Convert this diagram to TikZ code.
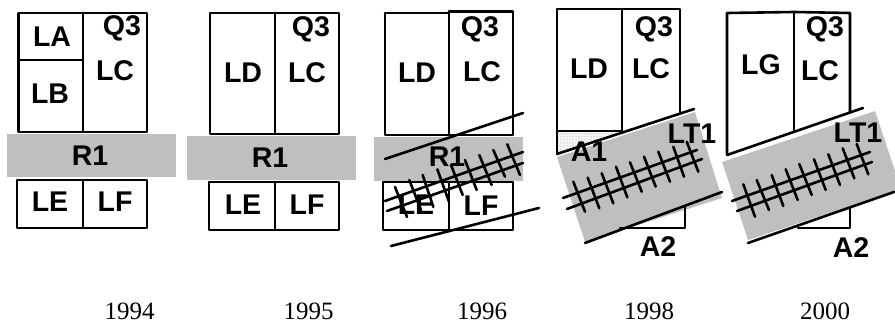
\documentclass[tikz,border=0pt]{standalone}
\usepackage{fontspec}
\usetikzlibrary{patterns}
\setmainfont{Liberation Sans}
\newfontfamily\yearfont{Liberation Serif}
\tikzset{
  box/.style={draw=black,line width=2.6pt,line cap=round,line join=round},
  band/.style={fill=black!25,draw=none},
  bar/.style={draw=black,line width=2.6pt,line cap=round},
  lab/.style={font=\fontsize{28.5}{28.5}\selectfont\bfseries,inner sep=0pt,text=black},
  yr/.style={font=\fontsize{25}{25}\selectfont\yearfont,inner sep=0pt,text=black}
}
\newcommand{\ties}[1]{\foreach \a/\b/\c/\d in {#1}{\draw[bar] (\a,\b) -- (\c,\d);}}
\begin{document}
\begin{tikzpicture}[x=1pt,y=-1pt]
\useasboundingbox (0,0) rectangle (895,323);
% 1994
\fill[band] (7,134) rectangle (176,177.5);
\draw[box] (18.5,13) rectangle (147,132);
\draw[box] (83,13) -- (83,132) (18.5,60) -- (83,60);
\draw[box] (17,180) rectangle (147,228);
\draw[box] (83,180) -- (83,228);
\node[lab] (a1) at (52,37) {LA};
\node[lab] (a2) at (122,28) {Q3};
\node[lab] (a3) at (115,71) {LC};
\node[lab] (a4) at (50,94) {LB};
\node[lab] (a5) at (90,156) {R1};
\node[lab] (a6) at (50,202) {LE};
\node[lab] (a7) at (115,202) {LF};
\node[yr] (y1) at (129.5,311) {1994};
% 1995
\fill[band] (187,136) rectangle (356,180);
\draw[box] (210,13) rectangle (339,134);
\draw[box] (275,13) -- (275,134);
\draw[box] (209,182) rectangle (339,230);
\draw[box] (275,182) -- (275,230);
\node[lab] (b1) at (243,73) {LD};
\node[lab] (b2) at (311,29) {Q3};
\node[lab] (b3) at (307,73) {LC};
\node[lab] (b4) at (270,158) {R1};
\node[lab] (b5) at (243,205) {LE};
\node[lab] (b6) at (307,205) {LF};
\node[yr] (y2) at (308.5,311) {1995};
% 1996
\fill[band] (374,137) rectangle (523,181);
\draw[box] (385,13) -- (449,13) (449,11.5) -- (513,11.5) -- (513,135) -- (385,135) -- (385,13);
\draw[box] (449,11.5) -- (449,135);
\draw[box] (383,182) rectangle (513,230);
\draw[box] (449,182) -- (449,230);
\node[lab] (c1) at (417,73) {LD};
\node[lab] (c2) at (480,29) {Q3};
\node[lab] (c3) at (482,72) {LC};
\node[lab] (c4) at (447,157) {R1};
\node[lab] (c5) at (416,205) {LE};
\node[lab] (c6) at (481,206) {LF};
\draw[bar] (385,159) -- (523,113);
\draw[bar] (391,246) -- (539,208);
\draw[bar] (385,201) -- (523,152);
\draw[bar] (387,211) -- (523,163);
\ties{395/187/407/217,409.3/180/421/210,422.7/175/433.3/207,437.3/169.3/449/201.7,451/165/462.7/195,465/160/476.7/190,479.3/155/491.7/185,493.3/150/505/176.7,507.3/144.3/520/175}
\node[yr] (y3) at (482,311) {1996};
% 1998
\fill[black!4] (557,131) -- (622,131) -- (557,153) -- cycle;
\fill[pattern=dots,pattern color=black!45] (557,131) -- (622,131) -- (557,153) -- cycle;
\fill[band] (557,157) -- (695,112) -- (722,198) -- (585,242) -- cycle;
\draw[box] (557,153) -- (557,9) -- (680,9) -- (680,112);
\draw[box] (622,9) -- (622,131);
\draw[box] (557,131) -- (622,131);
\draw[box] (620,228) -- (685,228) -- (685,207);
\draw[bar] (557,154) -- (694,109);
\draw[bar] (585,243) -- (722,192);
\draw[bar] (563,198) -- (697,150);
\draw[bar] (567,209) -- (702,159);
\ties{573.3/181.7/585/211.7,587.7/177.7/599.3/208.3,601.7/173.3/613.3/203.3,616/166.7/627.3/197.3,630/162.3/641.7/191.7,644/156.7/655.7/186.7,658.3/151.7/670/181.7,673.3/146.7/684/176.7,686.7/141.7/698.3/171.7}
\node[lab] (d1) at (589,69) {LD};
\node[lab] (d2) at (654,29) {Q3};
\node[lab] (d3) at (651,69) {LC};
\node[lab] (d4) at (692,134) {LT1};
\node[lab] (d5) at (589,152) {A1};
\node[lab] (d6) at (658,247) {A2};
\node[yr] (y4) at (649,311) {1998};
% 2000
\begin{scope}
\clip (0,0) rectangle (895,323);
\fill[band] (722,162) -- (875,111) -- (901,189) -- (748,240) -- cycle;
\end{scope}
\draw[box] (727,154) -- (727,13) -- (794,12) -- (850,13) -- (850,112);
\draw[box] (794,12) -- (794,132);
\draw[box] (798,228) -- (850,228) -- (850,207);
\draw[bar] (727,155) -- (863,108);
\draw[bar] (748,243) -- (894,192);
\draw[bar] (732,201) -- (870,152);
\draw[bar] (737,211) -- (872,162);
\ties{743.3/184.3/755/216.7,756.7/180/769/210,771.7/175/783.3/206,785.7/169.3/797.7/200,799.3/164/811.7/195,814/159.3/825.7/190,828.3/154.3/840/185,842.7/148.3/854.3/178.3,856.7/144/868.3/174.3}
\node[lab] (e1) at (761,65) {LG};
\node[lab] (e2) at (825,29) {Q3};
\node[lab] (e3) at (820,71) {LC};
\node[lab] (e4) at (858,133) {LT1};
\node[lab] (e5) at (851,248) {A2};
\node[yr] (y5) at (825,311) {2000};
\end{tikzpicture}
\end{document}
